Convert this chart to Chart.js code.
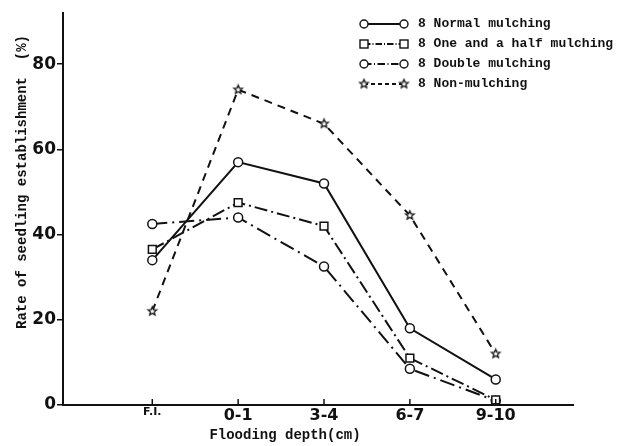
<!DOCTYPE html>
<html>
<head>
<meta charset="utf-8">
<script src="https://cdn.jsdelivr.net/npm/chart.js@4"></script>
<style>
  html, body { margin: 0; padding: 0; background: #fff; }
  #wrap { width: 627px; height: 446px; position: relative; }
</style>
</head>
<body>
<div id="wrap"><canvas id="chart"></canvas></div>
<script>
// depth categories on the x axis
const depthLabels = ['F.I.', '0-1', '3-4', '6-7', '9-10'];
const yTicks = [0, 20, 40, 60, 80];

// rate of seedling establishment (%)
const normalMulching = [34, 57, 52, 18, 6];
const oneHalfMulching = [36.5, 47.5, 42, 11, 1.2];
const doubleMulching = [42.5, 44, 32.5, 8.5, 1];
const nonMulching = [22, 74, 66, 44.5, 12];

const legendNames = ['8 Normal mulching', '8 One and a half mulching', '8 Double mulching', '8 Non-mulching'];

// small outlined 5-point star for the non-mulching series
function makeStar(r) {
    const c = document.createElement('canvas');
    const s = r * 2 + 4;
    c.width = s; c.height = s;
    const g = c.getContext('2d');
    g.beginPath();
    for (let i = 0; i < 10; i++) {
        const rad = i % 2 === 0 ? r : r * 0.45;
        const a = -Math.PI / 2 + i * Math.PI / 5;
        const px = s / 2 + rad * Math.cos(a);
        const py = s / 2 + rad * Math.sin(a);
        if (i === 0) g.moveTo(px, py); else g.lineTo(px, py);
    }
    g.closePath();
    g.fillStyle = '#fff';
    g.fill();
    g.strokeStyle = '#111';
    g.lineWidth = 1.3;
    g.stroke();
    return c;
}
const starImg = makeStar(4.5);

function toPoints(arr) {
    return arr.map((v, i) => ({ x: i, y: v }));
}

const series = [
    { data: normalMulching, dash: [], style: 'circle', radius: 4.5 },
    { data: oneHalfMulching, dash: [13, 4, 2, 4], style: 'rect', radius: 5.5 },
    { data: doubleMulching, dash: [15, 5, 2, 5], style: 'circle', radius: 4.5 },
    { data: nonMulching, dash: [8, 6], style: starImg, radius: 5 }
];

// legend + axis titles + upward x ticks, drawn on canvas
const extras = {
    id: 'extras',
    afterDraw(chart) {
        const ctx = chart.ctx;
        const xs = chart.scales.x;
        const area = chart.chartArea;
        ctx.save();
        ctx.strokeStyle = '#111';
        ctx.lineWidth = 1.5;
        depthLabels.forEach((l, i) => {
            const px = xs.getPixelForValue(i);
            ctx.beginPath();
            ctx.moveTo(px, area.bottom);
            ctx.lineTo(px, area.bottom - 6);
            ctx.stroke();
        });

        // legend
        const rows = [24, 44, 64, 84];
        series.forEach((s, i) => {
            const y = rows[i];
            ctx.setLineDash(s.dash.length ? s.dash.map(d => d * 0.5) : []);
            ctx.lineWidth = 1.8;
            ctx.beginPath();
            ctx.moveTo(364, y);
            ctx.lineTo(404, y);
            ctx.stroke();
            ctx.setLineDash([]);
            [364, 404].forEach(px => {
                ctx.fillStyle = '#fff';
                ctx.lineWidth = 1.4;
                if (s.style === 'rect') {
                    ctx.fillRect(px - 4, y - 4, 8, 8);
                    ctx.strokeRect(px - 4, y - 4, 8, 8);
                } else if (s.style === 'circle') {
                    ctx.beginPath();
                    ctx.arc(px, y, 4, 0, Math.PI * 2);
                    ctx.fill();
                    ctx.stroke();
                } else {
                    ctx.drawImage(starImg, px - starImg.width / 2, y - starImg.height / 2);
                }
            });
            ctx.fillStyle = '#111';
            ctx.font = 'bold 13px "Liberation Mono"';
            ctx.textBaseline = 'middle';
            ctx.textAlign = 'left';
            ctx.fillText(legendNames[i], 418, y);
        });

        // axis titles
        ctx.fillStyle = '#111';
        ctx.font = 'bold 14px "Liberation Mono"';
        ctx.textAlign = 'center';
        ctx.textBaseline = 'middle';
        ctx.fillText('Flooding depth(cm)', 285, 435);
        ctx.translate(22, 182);
        ctx.rotate(-Math.PI / 2);
        ctx.font = 'bold 14px "Liberation Mono"';
        ctx.fillText('Rate of seedling establishment  (%)', 0, 0);
        ctx.restore();
    }
};

new Chart(document.getElementById('chart'), {
    type: 'line',
    data: {
        datasets: series.map((s, i) => ({
            label: legendNames[i],
            data: toPoints(s.data),
            borderColor: '#111',
            borderWidth: 2,
            borderDash: s.dash,
            pointStyle: s.style,
            pointRadius: s.radius,
            pointBackgroundColor: '#fff',
            pointBorderColor: '#111',
            pointBorderWidth: 1.5,
            tension: 0,
            fill: false
        }))
    },
    options: {
        responsive: true,
        maintainAspectRatio: false,
        animation: false,
        layout: { padding: { top: 13, right: 54, left: 0, bottom: 0 } },
        plugins: {
            legend: { display: false },
            tooltip: { enabled: false }
        },
        scales: {
            x: {
                type: 'linear',
                min: -1.04,
                max: 4.9,
                afterBuildTicks: (scale) => {
                    scale.ticks = depthLabels.map((l, i) => ({ value: i }));
                },
                afterFit: (scale) => { scale.height = 41; },
                grid: { display: false },
                border: { display: true, color: '#111', width: 2 },
                ticks: {
                    autoSkip: false,
                    maxRotation: 0,
                    padding: -7,
                    color: '#111',
                    callback: (v) => depthLabels[v],
                    font: (c) => (c.tick && c.tick.value === 0)
                        ? { family: 'DejaVu Sans', weight: 'bold', size: 11 }
                        : { family: 'DejaVu Sans', weight: 'bold', size: 16 }
                }
            },
            y: {
                min: 0,
                max: 92,
                afterBuildTicks: (scale) => {
                    scale.ticks = yTicks.map(v => ({ value: v }));
                },
                afterFit: (scale) => { scale.width = 63; },
                grid: {
                    drawOnChartArea: false,
                    drawTicks: true,
                    tickLength: 6,
                    color: '#111',
                    lineWidth: 1.5
                },
                border: { display: true, color: '#111', width: 2 },
                ticks: {
                    padding: 1,
                    color: '#111',
                    font: { family: 'DejaVu Sans', weight: 'bold', size: 17 }
                }
            }
        }
    },
    plugins: [extras]
});
</script>
</body>
</html>
